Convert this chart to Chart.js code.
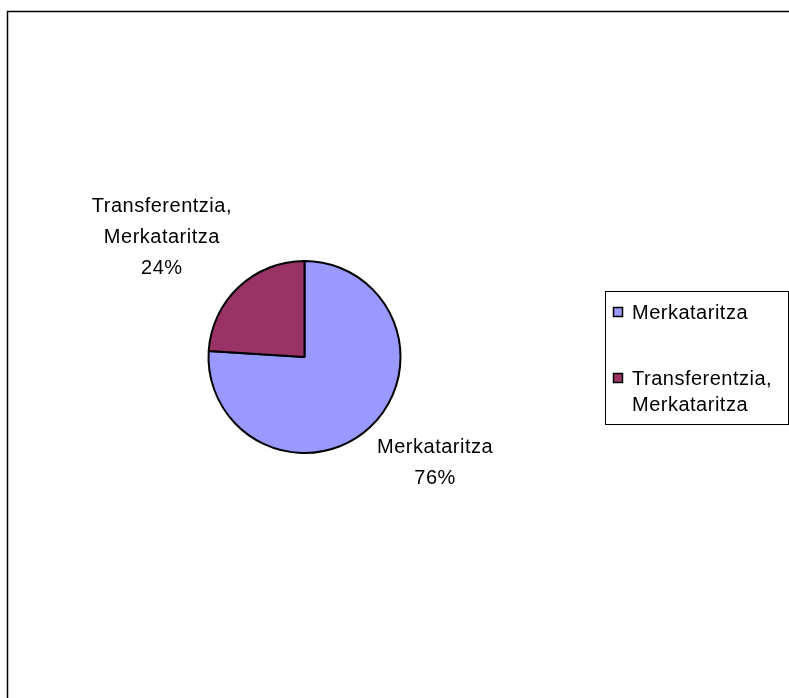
<!DOCTYPE html>
<html><head><meta charset="utf-8">
<script src="https://cdn.jsdelivr.net/npm/chart.js@4/dist/chart.umd.min.js"></script>
<style>html,body{margin:0;padding:0;background:#fff;}#wrap{width:789px;height:698px;}</style>
</head><body><div id="wrap"><canvas id="c" width="789" height="698"></canvas></div>
<script>
const categories = [['Merkataritza'], ['Transferentzia,', 'Merkataritza']];
const shares = [76, 24];
const sliceColors = ['#9999FF', '#993366'];

const FONT = '20px "Liberation Sans", Arial, sans-serif';
const SPACING = '0.5px';

const framePlugin = {
  id: 'frame',
  beforeDraw(chart) {
    const ctx = chart.ctx;
    ctx.save();
    ctx.fillStyle = '#fff';
    ctx.fillRect(0, 0, chart.width, chart.height);
    ctx.strokeStyle = '#000';
    ctx.lineWidth = 1.5;
    ctx.beginPath();
    ctx.moveTo(7.5, chart.height + 2);
    ctx.lineTo(7.5, 11.5);
    ctx.lineTo(chart.width + 2, 11.5);
    ctx.stroke();
    ctx.restore();
  }
};

const labelPlugin = {
  id: 'sliceLabels',
  afterDatasetsDraw(chart) {
    const ctx = chart.ctx;
    const meta = chart.getDatasetMeta(0);
    const data = chart.data.datasets[0].data;
    const total = data.reduce((a, b) => a + b, 0);
    const gapX = 10, gapY = 5, lh = 31;
    ctx.save();
    ctx.font = FONT;
    ctx.letterSpacing = SPACING;
    ctx.fillStyle = '#000';
    ctx.textAlign = 'center';
    ctx.textBaseline = 'middle';
    meta.data.forEach((arc, i) => {
      const p = arc.getProps(['x', 'y', 'startAngle', 'endAngle', 'outerRadius'], true);
      const mid = (p.startAngle + p.endAngle) / 2;
      const dx = Math.cos(mid), dy = Math.sin(mid);
      const ax = p.x + dx * (p.outerRadius + gapX);
      const ay = p.y + dy * (p.outerRadius + gapY);
      const lines = [...chart.data.labels[i], Math.round(data[i] / total * 100) + '%'];
      const w = Math.max(...lines.map(l => ctx.measureText(l).width));
      const h = lines.length * lh;
      const cx = dx < 0 ? ax - w / 2 : ax + w / 2;
      const top = dy < 0 ? ay - h : ay;
      lines.forEach((l, j) => ctx.fillText(l, cx, top + lh * (j + 0.5) + 1));
    });
    ctx.restore();
  }
};

const legendPlugin = {
  id: 'boxLegend',
  afterDraw(chart, args, opts) {
    const ctx = chart.ctx;
    const ds = chart.data.datasets[0];
    ctx.save();
    ctx.strokeStyle = '#000';
    ctx.lineWidth = 1;
    ctx.strokeRect(opts.left, opts.top, opts.right - opts.left, opts.bottom - opts.top);
    ctx.font = FONT;
    ctx.letterSpacing = SPACING;
    ctx.textAlign = 'left';
    ctx.textBaseline = 'middle';
    let y = opts.firstY;
    const m = opts.marker;
    chart.data.labels.forEach((lab, i) => {
      ctx.fillStyle = ds.backgroundColor[i];
      ctx.fillRect(opts.markerX, y - m / 2, m, m);
      ctx.strokeStyle = '#000';
      ctx.lineWidth = 1.5;
      ctx.strokeRect(opts.markerX, y - m / 2, m, m);
      ctx.fillStyle = '#000';
      lab.forEach((l, j) => ctx.fillText(l, opts.textX, y + j * opts.lineH + 1));
      y += lab.length * opts.lineH + opts.itemGap;
    });
    ctx.restore();
  }
};

new Chart(document.getElementById('c'), {
  type: 'pie',
  data: {
    labels: categories,
    datasets: [{
      data: shares,
      backgroundColor: sliceColors,
      borderColor: '#000',
      borderWidth: 2,
      radius: 96
    }]
  },
  options: {
    responsive: false,
    animation: false,
    devicePixelRatio: 1,
    layout: { padding: { left: 0, right: 180, top: 16, bottom: 0 } },
    plugins: {
      legend: { display: false },
      tooltip: { enabled: false },
      boxLegend: { left: 605.5, top: 291.5, right: 788.5, bottom: 424.5, markerX: 613.5, marker: 9, textX: 632, firstY: 312, lineH: 26, itemGap: 40 }
    }
  },
  plugins: [framePlugin, labelPlugin, legendPlugin]
});
</script>
</body></html>
